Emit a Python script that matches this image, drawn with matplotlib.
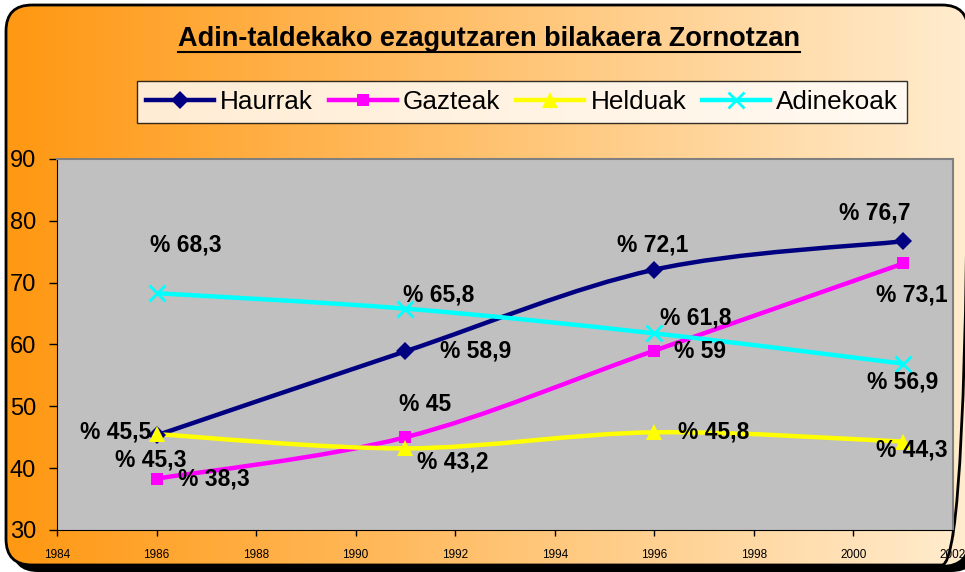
import numpy as np
import matplotlib.pyplot as plt
from matplotlib.patches import FancyBboxPatch, PathPatch
from matplotlib.path import Path
from matplotlib.lines import Line2D

plt.rcParams['font.family'] = ['Liberation Sans', 'DejaVu Sans']

years = [1986, 1991, 1996, 2001]
series_names = ["Haurrak", "Gazteak", "Helduak", "Adinekoak"]
haurrak = [45.3, 58.9, 72.1, 76.7]
gazteak = [38.3, 45.0, 59.0, 73.1]
helduak = [45.5, 43.2, 45.8, 44.3]
adinekoak = [68.3, 65.8, 61.8, 56.9]
title = "Adin-taldekako ezagutzaren bilakaera Zornotzan"

colors = ["#000080", "#FF00FF", "#FFFF00", "#00FFFF"]
markers = ["D", "s", "^", "x"]
msizes = [9, 9, 11, 11]
# label offsets in pixels relative to the point (dx, dy), y up
offsets = [
    [(-6, -25), (70, 0), (-2, 25), (-28, 28)],
    [(57, 0), (20, 33), (46, -1), (9, -32)],
    [(-41, 2), (47, -14), (59, 0), (9, -8)],
    [(29, 48), (33, 14), (41, 15), (-1, -18)],
]

W, H = 965, 572
fig = plt.figure(figsize=(W / 100, H / 100), dpi=100)

# background frame
bg = fig.add_axes([0, 0, 1, 1])
bg.set_xlim(0, W)
bg.set_ylim(H, 0)
bg.axis("off")
shadow = FancyBboxPatch((12, 14), W, H - 14, boxstyle="round,pad=0,rounding_size=26",
                        fc="black", ec="black", lw=0)
bg.add_patch(shadow)
frame = FancyBboxPatch((6, 5), W - 3, H - 12, boxstyle="round,pad=0,rounding_size=26",
                       fc="none", ec="black", lw=2, zorder=3)
bg.add_patch(frame)
c0 = np.array([255, 152, 18]) / 255
c1 = np.array([255, 236, 206]) / 255
t = np.linspace(0, 1, 256)
grad = (c0[None, :] * (1 - t[:, None]) + c1[None, :] * t[:, None])[None, :, :]
im = bg.imshow(grad, extent=(6, W + 3, H - 7, 5), aspect="auto", zorder=2)
im.set_clip_path(frame)

# title
tt = fig.text(489 / W, 1 - 39 / H, title, ha="center", va="center",
              fontsize=19.5, fontweight="bold")
fig.canvas.draw()
bb = tt.get_window_extent(fig.canvas.get_renderer())
uy = 1 - 52 / H
fig.add_artist(Line2D([bb.x0 / W, bb.x1 / W], [uy, uy], color="black", lw=1.5,
                      transform=fig.transFigure))

# main plot
ax = fig.add_axes([57 / W, (H - 530) / H, (953 - 57) / W, (530 - 159) / H])
ax.set_facecolor("#C0C0C0")
ax.set_xlim(1984, 2002)
ax.set_ylim(30, 90)
ax.set_xticks(range(1984, 2003, 2))
ax.set_yticks(range(30, 91, 10))
ax.tick_params(axis="y", direction="out", length=6, width=1, pad=9, labelsize=17)
ax.tick_params(axis="x", direction="out", length=4, width=1, pad=10, labelsize=8.5)
ax.spines["left"].set_color("black")
ax.spines["bottom"].set_color("black")
for s in ["top", "right"]:
    ax.spines[s].set_color("#808080")
    ax.spines[s].set_linewidth(1.5)


def smooth_path(xs, ys):
    pts = np.column_stack([xs, ys]).astype(float)
    n = len(pts)
    verts = [pts[0]]
    codes = [Path.MOVETO]
    for i in range(n - 1):
        p0 = pts[max(i - 1, 0)]
        p1 = pts[i]
        p2 = pts[i + 1]
        p3 = pts[min(i + 2, n - 1)]
        verts += [p1 + (p2 - p0) / 6, p2 - (p3 - p1) / 6, p2]
        codes += [Path.CURVE4] * 3
    return Path(verts, codes)


all_series = [haurrak, gazteak, helduak, adinekoak]
handles = []
for k, vals in enumerate(all_series):
    ax.add_patch(PathPatch(smooth_path(years, vals), fc="none", ec=colors[k], lw=3.2,
                           zorder=3, capstyle="butt"))
    ax.plot(years, vals, ls="none", marker=markers[k], ms=msizes[k], color=colors[k],
            mew=2 if markers[k] == "x" else 0, zorder=4)
    handles.append(Line2D([], [], color=colors[k], lw=3.2, marker=markers[k],
                          ms=msizes[k], mew=2 if markers[k] == "x" else 0))
    for j, v in enumerate(vals):
        lab = f"% {v:g}".replace(".", ",")
        ax.annotate(lab, (years[j], v), xytext=offsets[k][j], textcoords="offset pixels",
                    ha="center", va="center", fontsize=16.5, fontweight="bold", zorder=5)

leg = ax.legend(handles, series_names, ncol=4, loc="center",
                bbox_to_anchor=(522 / W, 1 - 102 / H), bbox_transform=fig.transFigure,
                fontsize=18.8, frameon=True, fancybox=False, edgecolor="black",
                handlelength=2.6, handletextpad=0.25, columnspacing=0.6,
                borderpad=0.35, borderaxespad=0)
leg.get_frame().set_linewidth(1)
leg.get_frame().set_facecolor("white")

fig.savefig("out.png", dpi=100)
